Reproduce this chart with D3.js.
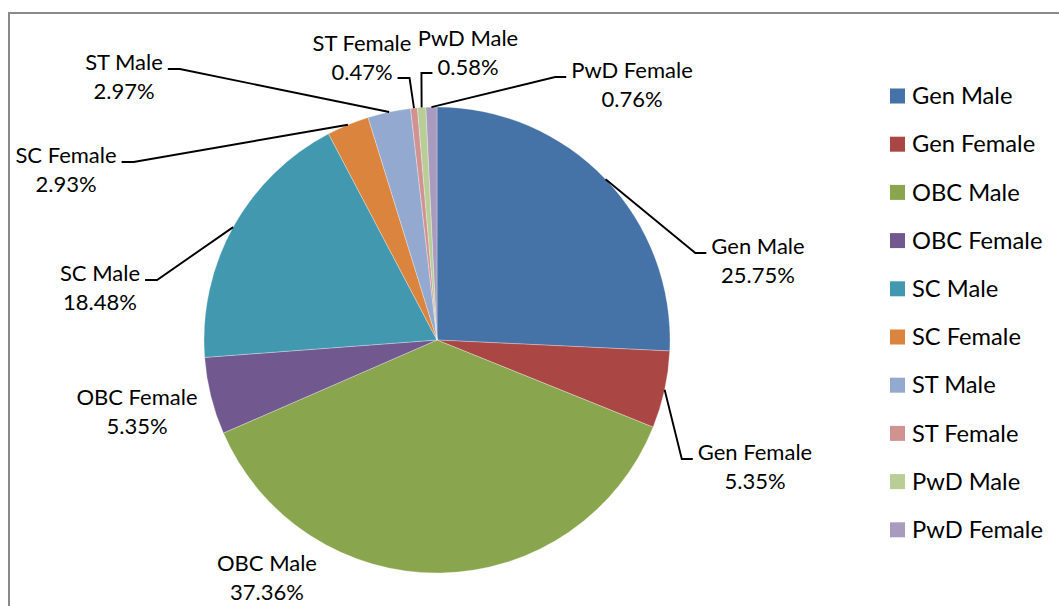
<!DOCTYPE html>
<html>
<head>
<meta charset="utf-8">
<script src="https://cdn.jsdelivr.net/npm/d3@7"></script>
<style>
  html, body { margin: 0; padding: 0; background: #fff; }
  svg { display: block; }
  text { font-family: Lato, "Open Sans", sans-serif; fill: #000; }
</style>
</head>
<body>
<svg id="chart" width="1059" height="606"></svg>
<script>
// ---- data ----
const categories = ["Gen Male", "Gen Female", "OBC Male", "OBC Female", "SC Male",
                    "SC Female", "ST Male", "ST Female", "PwD Male", "PwD Female"];
const shares = [25.75, 5.35, 37.36, 5.35, 18.48, 2.93, 2.97, 0.47, 0.58, 0.76];
const colors = ["#4572A7", "#AA4643", "#89A54E", "#71588F", "#4198AF",
                "#DB843D", "#93A9CF", "#D19392", "#B9CD96", "#A99BBD"];

// ---- layout (label placement, not data) ----
// cx, cy: centre of first label line; side: where the leader attaches; line: which text line
const labelLayout = [
  {cx: 758, cy: 246, side: "left",  line: 1},
  {cx: 755, cy: 452, side: "left",  line: 1},
  {cx: 267, cy: 563, side: null,    line: 1},
  {cx: 137, cy: 397, side: null,    line: 1},
  {cx: 100, cy: 273, side: "right", line: 1},
  {cx: 66,  cy: 155, side: "right", line: 1},
  {cx: 124, cy: 62,  side: "right", line: 1},
  {cx: 362, cy: 43,  side: "right", line: 2},
  {cx: 468, cy: 38,  side: "left",  line: 2},
  {cx: 632, cy: 70,  side: "left",  line: 1}
];

const W = 1059, H = 606;
const cx = 437, cy = 340, R = 233;
const labelFont = 22, legendFont = 23.7, lineGap = 29;

const svg = d3.select("#chart");

// frame
svg.append("path")
  .attr("d", `M9,${H + 2} V13 H${W + 2}`)
  .attr("fill", "none").attr("stroke", "#8a8a8a").attr("stroke-width", 2);

const data = categories.map((c, i) => ({name: c, value: shares[i], color: colors[i], lay: labelLayout[i]}));

const pie = d3.pie().value(d => d.value).sort(null);
const arcs = pie(data);
const arc = d3.arc().innerRadius(0).outerRadius(R);

const g = svg.append("g").attr("transform", `translate(${cx},${cy})`);
g.selectAll("path.slice").data(arcs).enter().append("path")
  .attr("class", "slice")
  .attr("d", arc)
  .attr("fill", d => d.data.color)
  .attr("stroke", "#ffffff").attr("stroke-width", 0.5).attr("stroke-opacity", 0.6);

// labels
const fmt = v => v.toFixed(2) + "%";
const labelG = svg.append("g");
arcs.forEach(a => {
  const lay = a.data.lay;
  const t1 = labelG.append("text")
    .attr("x", lay.cx).attr("y", lay.cy).attr("dy", "0.35em")
    .attr("text-anchor", "middle").attr("font-size", labelFont)
    .text(a.data.name);
  const t2 = labelG.append("text")
    .attr("x", lay.cx).attr("y", lay.cy + lineGap).attr("dy", "0.35em")
    .attr("text-anchor", "middle").attr("font-size", labelFont)
    .text(fmt(a.data.value));
  if (!lay.side) return;
  const tNode = lay.line === 1 ? t1.node() : t2.node();
  const w = tNode.getComputedTextLength();
  const ly = (lay.line === 1 ? lay.cy + 7 : lay.cy + lineGap + 6);
  const mid = (a.startAngle + a.endAngle) / 2;
  const px = cx + R * Math.sin(mid), py = cy - R * Math.cos(mid);
  let x1, x2;
  if (lay.side === "right") { x1 = lay.cx + w / 2 + 5; x2 = x1 + 12; }
  else { x1 = lay.cx - w / 2 - 5; x2 = x1 - 11; }
  labelG.append("path")
    .attr("d", `M${x1},${ly} H${x2} L${px},${py}`)
    .attr("fill", "none").attr("stroke", "#000").attr("stroke-width", 1.9);
});

// legend
const legendY0 = 96, legendStep = 48.2;
const leg = svg.append("g");
data.forEach((d, i) => {
  const y = legendY0 + i * legendStep;
  leg.append("rect").attr("x", 890).attr("y", y - 7.5).attr("width", 15).attr("height", 15)
    .attr("fill", d.color);
  leg.append("text").attr("x", 912).attr("y", y).attr("dy", "0.35em")
    .attr("font-size", legendFont).text(d.name);
});
</script>
</body>
</html>
